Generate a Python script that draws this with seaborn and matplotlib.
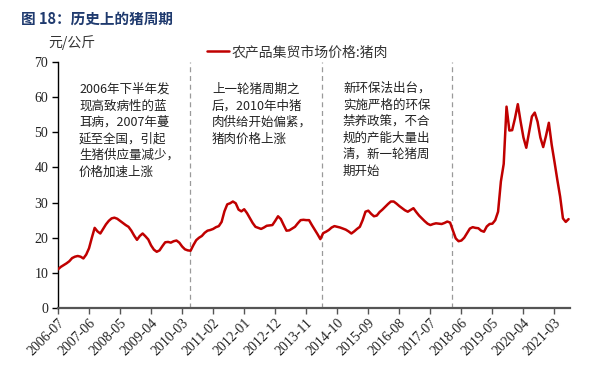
import numpy as np
import pandas as pd
import matplotlib
matplotlib.use("Agg")
import matplotlib.pyplot as plt
import seaborn as sns

# ---- data ----
tick_labels = ["2006-07", "2007-06", "2008-05", "2009-04", "2010-03", "2011-02",
               "2012-01", "2012-12", "2013-11", "2014-10", "2015-09", "2016-08",
               "2017-07", "2018-06", "2019-05", "2020-04", "2021-03"]
tick_step = 11  # months between labelled ticks

# monthly pork price (元/公斤), starting 2006-07
price = [
    11.0, 11.7, 12.2, 12.7, 13.3, 14.2, 14.6, 14.8, 14.6, 14.1,
    15.2, 17.0, 20.0, 22.8, 21.8, 21.2, 22.5, 23.8, 24.8, 25.5,
    25.7, 25.4, 24.8, 24.2, 23.6, 23.1, 22.0, 20.6, 19.4, 20.5,
    21.2, 20.4, 19.5, 17.8, 16.6, 16.0, 16.4, 17.6, 18.7, 18.8,
    18.6, 19.0, 19.2, 18.6, 17.5, 16.7, 16.4, 16.3, 17.9, 19.3,
    20.0, 20.5, 21.4, 22.0, 22.2, 22.5, 23.0, 23.3, 24.5, 27.5,
    29.5, 29.8, 30.3, 29.8, 28.0, 27.5, 28.1, 27.0, 25.6, 24.2,
    23.1, 22.8, 22.5, 22.9, 23.4, 23.5, 23.6, 24.8, 26.1, 25.3,
    23.6, 22.0, 22.1, 22.6, 23.1, 24.1, 25.0, 25.1, 25.0, 25.0,
    23.6, 22.3, 21.0, 19.6, 21.3, 21.7, 22.2, 22.9, 23.3, 23.1,
    22.9, 22.6, 22.3, 21.8, 21.2, 21.8, 22.5, 23.1, 25.0, 27.4,
    27.7, 26.8, 26.1, 26.3, 27.3, 28.0, 28.8, 29.6, 30.3, 30.3,
    29.7, 29.0, 28.4, 27.8, 27.4, 27.9, 28.4, 27.3, 26.3, 25.5,
    24.7, 24.0, 23.6, 23.9, 24.1, 24.0, 23.9, 24.2, 24.6, 24.3,
    22.0, 19.8, 19.0, 19.2, 20.0, 21.3, 22.6, 23.0, 22.8, 22.7,
    22.0, 21.7, 23.2, 23.9, 24.0, 25.0, 27.4, 36.0, 41.0, 57.3,
    50.5, 50.6, 54.0, 58.0, 53.0, 48.5, 45.6, 50.0, 54.5, 55.6,
    53.0, 48.5, 45.8, 49.0, 52.7, 46.5, 41.6, 36.5, 31.7, 25.5,
    24.5, 25.3,
]

series_name = "农产品集贸市场价格:猪肉"
divider_months = [46.9, 93.6, 139.7]
notes = [
    "2006年下半年发\n现高致病性的蓝\n耳病，2007年蔓\n延至全国，引起\n生猪供应量减少，\n价格加速上涨",
    "上一轮猪周期之\n后，2010年中猪\n肉供给开始偏紧，\n猪肉价格上涨",
    "新环保法出台，\n实施严格的环保\n禁养政策，不合\n规的产能大量出\n清，新一轮猪周\n期开始",
]

df = pd.DataFrame({"month": np.arange(len(price)), "price": price})

# ---- style ----
sns.set_theme(style="white")
cjk = ["Noto Sans CJK SC", "DejaVu Sans"]
serif = ["Liberation Serif", "DejaVu Serif"]
plt.rcParams["font.family"] = cjk

W, H = 602, 387
fig = plt.figure(figsize=(W / 100, H / 100), dpi=100)
ax = fig.add_axes([58 / W, 1 - 308 / H, (570 - 58) / W, (308 - 62) / H])

sns.lineplot(data=df, x="month", y="price", ax=ax, color="#C00000",
             linewidth=1.8, label=series_name, zorder=3)

for m in divider_months:
    ax.axvline(m, color="#9a9a9a", linestyle=(0, (4, 3)), linewidth=0.9, zorder=1)

ax.set_xlim(0, 181.5)
ax.set_ylim(0, 70)
ax.set_yticks(range(0, 71, 10))
ax.set_xticks([i * tick_step for i in range(len(tick_labels))])
ax.set_xticklabels(tick_labels, rotation=45, ha="right", rotation_mode="anchor",
                   family=serif, fontsize=10, color="#222222")
for lab in ax.get_yticklabels():
    lab.set_family(serif)
    lab.set_fontsize(10)
    lab.set_color("#222222")
ax.set_xlabel("")
ax.set_ylabel("")

for s in ["top", "right"]:
    ax.spines[s].set_visible(False)
ax.spines["left"].set_color("#000000")
ax.spines["left"].set_linewidth(1.0)
ax.spines["bottom"].set_color("#555555")
ax.spines["bottom"].set_linewidth(1.6)
ax.tick_params(axis="y", which="major", left=True, length=4, width=1.0,
               color="#000000", pad=3)
ax.tick_params(axis="x", which="major", bottom=True, length=4, width=1.0,
               color="#555555", pad=2)
ax.grid(False)

# annotations
note_pos = [(79, 83), (212, 83), (343, 82)]
for (px, py), txt in zip(note_pos, notes):
    fig.text(px / W, 1 - py / H, txt, ha="left", va="top", fontsize=9,
             color="#222222", linespacing=1.35, family=cjk)

# legend
leg = ax.legend(loc="center left", bbox_to_anchor=(207 / W, 1 - 52 / H),
                bbox_transform=fig.transFigure, frameon=False, fontsize=10,
                handlelength=1.6, handletextpad=0.2, borderaxespad=0,
                borderpad=0)
for t in leg.get_texts():
    t.set_color("#333333")

fig.text(21 / W, 1 - 19 / H, "图 18：历史上的猪周期", ha="left", va="center",
         fontsize=10.5, fontweight="bold", color="#1F3A6E", family=cjk)
fig.text(48 / W, 1 - 43 / H, "元/公斤", ha="left", va="center",
         fontsize=10, color="#333333", family=cjk)

fig.savefig("out.png", dpi=100)
